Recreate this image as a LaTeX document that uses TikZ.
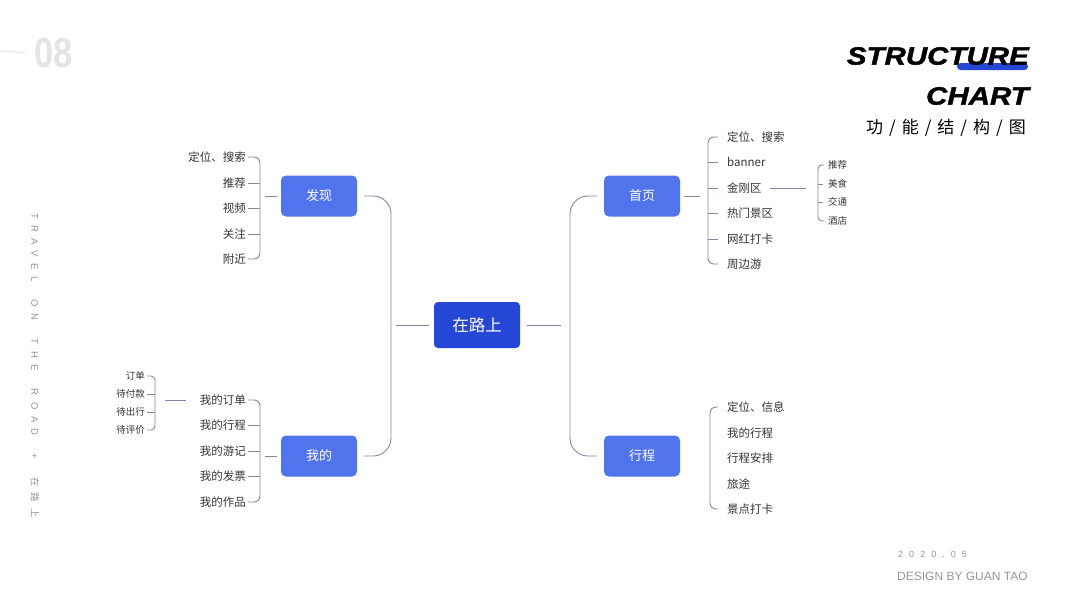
\documentclass[tikz,border=0pt]{standalone}
\usepackage{fontspec}
\setmainfont{Noto Sans CJK SC}
\newfontfamily\headfont{Liberation Sans}[FakeStretch=1.18,FakeBold=1.6]
\newfontfamily\numfont{Liberation Sans}[FakeStretch=0.82]
\newfontfamily\latinfont{Liberation Sans}
\usepackage{tikz}
\definecolor{rootblue}{HTML}{2547D6}
\definecolor{topicblue}{HTML}{5173EC}
\definecolor{linegray}{HTML}{8088AA}
\definecolor{labelgray}{HTML}{333333}
\definecolor{softgray}{HTML}{959595}
\definecolor{numgray}{HTML}{E4E4E4}
\newcommand{\tsep}{\hspace{6pt}/\hspace{6pt}}
\tikzset{
  root node/.style={rectangle,rounded corners=4pt,fill=rootblue,text=white,minimum width=86pt,minimum height=46pt,font=\fontsize{16.5}{18}\selectfont},
  main node/.style={rectangle,rounded corners=5pt,fill=topicblue,text=white,minimum width=76pt,minimum height=41pt,font=\fontsize{13}{15}\selectfont},
  leaf node/.style={inner sep=2pt,text=labelgray,font=\fontsize{11.5}{13}\selectfont,text height=10pt,text depth=1.5pt},
  small node/.style={inner sep=2pt,text=labelgray,font=\fontsize{9.5}{11}\selectfont,text height=8.2pt,text depth=1.2pt},
  title node/.style={anchor=east,inner sep=0pt,font=\headfont\bfseries\itshape\fontsize{25}{25}\selectfont},
  link/.style={draw=linegray,line width=0.9pt}
}

\begin{document}
\begin{tikzpicture}[x=1pt,y=-1pt]
\useasboundingbox (0,0) rectangle (1080,608);

% header and footer
\node[anchor=west,inner sep=0pt,text=numgray,font=\numfont\bfseries\fontsize{42}{42}\selectfont] (num) at (34,53) {08};
\draw[draw=numgray,line width=1pt,shorten >=9pt] (0,51) -- (num.west);
\fill[rootblue,rounded corners=3.5pt] (957,63) rectangle (1028,70);
\node[title node] (ttla) at (1029,56) {STRUCTURE};
\node[title node] (ttlb) at (1029,96) {CHART};
\node[anchor=east,inner sep=0pt,font=\fontsize{17}{19}\selectfont] (ttlc) at (1026,128) {功\tsep 能\tsep 结\tsep 构\tsep 图};
\node[rotate=-90,anchor=west,inner sep=0pt,text=softgray,font=\fontsize{9.5}{10}\selectfont] (side) at (35,213)
  {{\latinfont\addfontfeature{LetterSpace=68}TRAVEL\ \ ON\ \ THE\ \ ROAD\ \ +\ \ }{\addfontfeature{LetterSpace=60}在路上}};
\node[anchor=west,inner sep=0pt,text=softgray,font=\latinfont\fontsize{9}{9}\selectfont\addfontfeature{LetterSpace=67}] (date) at (898,554) {2020.05};
\node[anchor=west,inner sep=0pt,text=softgray,font=\latinfont\fontsize{12}{12}\selectfont] (sign) at (897,576) {DESIGN BY GUAN TAO};

% main boxes
\node[root node] (root) at (477,325) {在路上};
\node[main node] (fx) at (319,196) {发现};
\node[main node] (wd) at (319,456) {我的};
\node[main node] (sy) at (642,196) {首页};
\node[main node] (xc) at (642,456) {行程};

\coordinate (lb) at (391,325);
\coordinate (rb) at (570,325);
\draw[link,rounded corners=18pt,shorten <=7pt,shorten >=7pt] (fx.east) -| (lb) |- (wd.east);
\draw[link,shorten <=5pt,shorten >=5pt] (lb) -- (root.west);
\draw[link,rounded corners=18pt,shorten <=7pt,shorten >=7pt] (sy.west) -| (rb) |- (xc.west);
\draw[link,shorten <=7pt,shorten >=9pt] (root.east) -- (rb);

% faxian
\foreach \y/\t/\n in {157/定位、搜索/fx1,183/推荐/fx2,208/视频/fx3,234/关注/fx4,259/附近/fx5}
  \node[leaf node,anchor=east] (\n) at (248,\y) {\t};
\coordinate (fxb) at (260,208);
\draw[link,rounded corners=6pt] (fx1.east) -| (fxb) |- (fx5.east);
\foreach \n in {fx2,fx3,fx4}
  \draw[link] (\n.east) -- (\n.east -| fxb);
\draw[link,shorten <=5pt,shorten >=4pt] (fxb |- fx.west) -- (fx.west);

% wode
\foreach \y/\t/\n in {400/我的订单/wd1,425/我的行程/wd2,451/我的游记/wd3,476/我的发票/wd4,502/我的作品/wd5}
  \node[leaf node,anchor=east] (\n) at (248,\y) {\t};
\coordinate (wdb) at (260,451);
\draw[link,rounded corners=6pt] (wd1.east) -| (wdb) |- (wd5.east);
\foreach \n in {wd2,wd3,wd4}
  \draw[link] (\n.east) -- (\n.east -| wdb);
\draw[link,shorten <=5pt,shorten >=4pt] (wdb |- wd.west) -- (wd.west);

\foreach \y/\t/\n in {376/订单/dd1,394/待付款/dd2,412/待出行/dd3,430/待评价/dd4}
  \node[small node,anchor=east] (\n) at (147,\y) {\t};
\coordinate (ddb) at (155,403);
\draw[link,rounded corners=4pt] (dd1.east) -| (ddb) |- (dd4.east);
\foreach \n in {dd2,dd3}
  \draw[link] (\n.east) -- (\n.east -| ddb);
\draw[link,shorten <=10pt,shorten >=12pt] (ddb |- wd1.west) -- (wd1.west);

% shouye
\foreach \y/\t/\n in {137/定位、搜索/sy1,162/banner/sy2,188/金刚区/sy3,213/热门景区/sy4,239/网红打卡/sy5,264/周边游/sy6}
  \node[leaf node,anchor=west] (\n) at (725,\y) {\t};
\coordinate (syb) at (708,200);
\draw[link,rounded corners=6pt,shorten <=7pt,shorten >=7pt] (sy1.west) -| (syb) |- (sy6.west);
\foreach \n in {sy2,sy3,sy4,sy5}
  \draw[link,shorten >=7pt] (\n.west -| syb) -- (\n.west);
\draw[link,shorten <=4pt,shorten >=8pt] (sy.east) -- (sy.east -| syb);

\foreach \y/\t/\n in {165/推荐/jg1,184/美食/jg2,202/交通/jg3,221/酒店/jg4}
  \node[small node,anchor=west] (\n) at (826,\y) {\t};
\coordinate (jgb) at (818,193);
\draw[link,rounded corners=4pt,shorten <=2pt,shorten >=2pt] (jg1.west) -| (jgb) |- (jg4.west);
\foreach \n in {jg2,jg3}
  \draw[link,shorten >=3pt] (\n.west -| jgb) -- (\n.west);
\draw[link,shorten <=6pt,shorten >=12pt] (sy3.east) -- (sy3.east -| jgb);

% xingcheng
\foreach \y/\t/\n in {407/定位、信息/xc1,433/我的行程/xc2,458/行程安排/xc3,484/旅途/xc4,509/景点打卡/xc5}
  \node[leaf node,anchor=west] (\n) at (725,\y) {\t};
\coordinate (xcb) at (710,458);
\draw[link,rounded corners=6pt,shorten <=7pt,shorten >=7pt] (xc1.west) -| (xcb) |- (xc5.west);
\end{tikzpicture}
\end{document}
